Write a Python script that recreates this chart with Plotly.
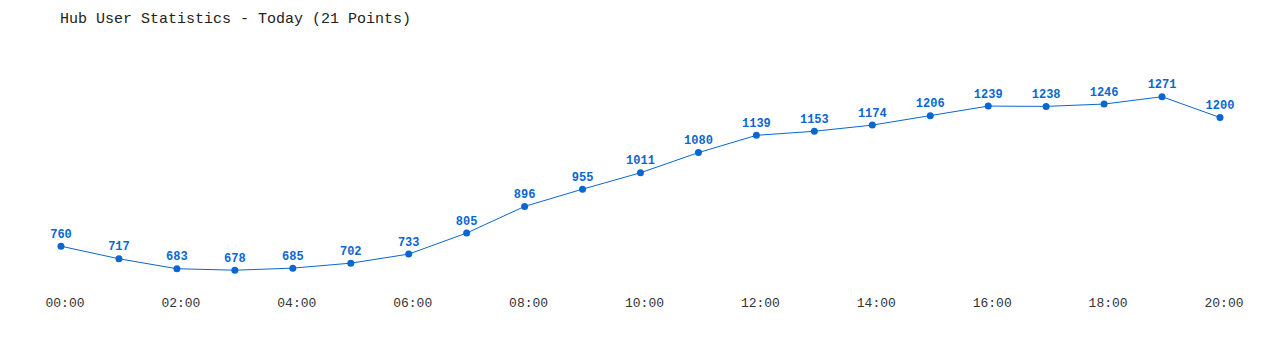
import plotly.graph_objects as go

hours = list(range(21))
users = [760, 717, 683, 678, 685, 702, 733, 805, 896, 955, 1011, 1080,
         1139, 1153, 1174, 1206, 1239, 1238, 1246, 1271, 1200]
tick_vals = list(range(0, 21, 2))
tick_text = [f"{h:02d}:00" for h in tick_vals]

blue = "#0a67cf"
mono = "Liberation Mono, DejaVu Sans Mono, monospace"

fig = go.Figure(go.Scatter(
    x=hours, y=users, mode="lines+markers+text",
    line=dict(color=blue, width=1),
    marker=dict(color=blue, size=7),
    text=[str(v) for v in users], textposition="top center",
    textfont=dict(family=mono, size=12, color=blue, weight="bold"),
    cliponaxis=False, hoverinfo="x+y",
))

fig.update_layout(
    width=1280, height=350,
    margin=dict(l=61, r=60, t=59, b=57),
    paper_bgcolor="white", plot_bgcolor="white",
    showlegend=False,
    title=dict(text="Hub User Statistics - Today (21 Points)",
               x=0, xref="container", y=1 - 18 / 350, yref="container",
               xanchor="left", yanchor="middle", pad=dict(l=60),
               font=dict(family=mono, size=15, color="#222")),
    xaxis=dict(range=[0, 20], tickvals=tick_vals, ticktext=tick_text,
               showgrid=False, zeroline=False, showline=False, ticks="",
               ticklabelshift=4,
               tickfont=dict(family=mono, size=13, color="#333")),
    yaxis=dict(range=[600, 1400], visible=False),
)
fig.write_html("out.html")
